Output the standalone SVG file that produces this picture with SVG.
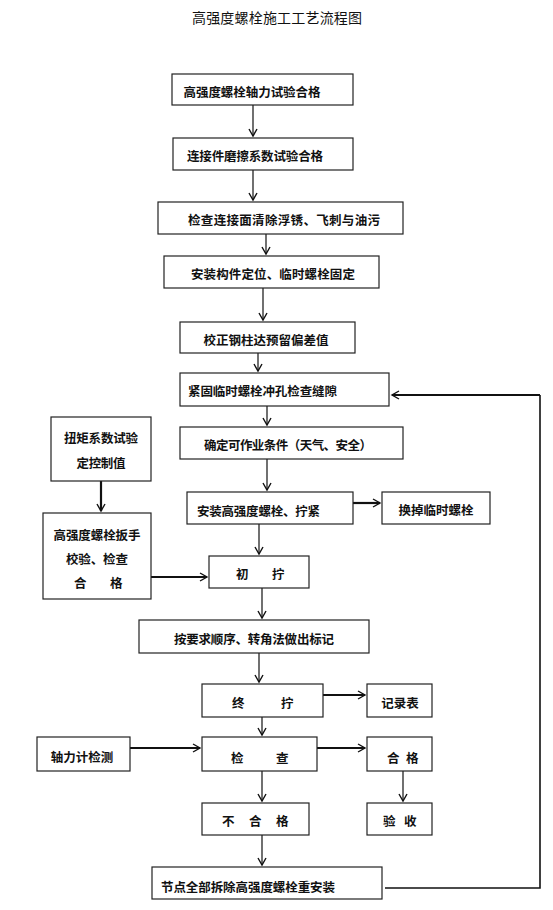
<svg xmlns="http://www.w3.org/2000/svg" width="553" height="910" viewBox="0 0 553 910">
<defs>
<style>
.box{fill:#fff;stroke:#222;stroke-width:1.2}
.t{font-family:"Noto Sans CJK SC","Noto Sans CJK JP",sans-serif;font-size:12.5px;font-weight:bold;fill:#111;dominant-baseline:central}
.c{text-anchor:middle}
.ln{fill:none;stroke:#111;stroke-width:1.2}
.th{fill:none;stroke:#111;stroke-width:2.2}
</style>
<marker id="ah" markerWidth="10" markerHeight="10" refX="8" refY="5" orient="auto" markerUnits="userSpaceOnUse">
<path d="M1,1 L8,5 L1,9" fill="none" stroke="#111" stroke-width="1.4"/>
</marker>
</defs>
<rect width="553" height="910" fill="#fff"/>
<text class="t c" x="277" y="17" style="font-size:14px;font-weight:normal" textLength="170" lengthAdjust="spacing">高强度螺栓施工工艺流程图</text>

<g id="connectors">
<line class="ln" x1="253" y1="105" x2="253" y2="136" marker-end="url(#ah)"/>
<line class="ln" x1="253" y1="170" x2="253" y2="200" marker-end="url(#ah)"/>
<line class="ln" x1="266" y1="234" x2="266" y2="254" marker-end="url(#ah)"/>
<line class="ln" x1="263" y1="288" x2="263" y2="320" marker-end="url(#ah)"/>
<line class="ln" x1="258" y1="353" x2="258" y2="371" marker-end="url(#ah)"/>
<line class="ln" x1="267" y1="406" x2="267" y2="425" marker-end="url(#ah)"/>
<line class="ln" x1="267" y1="459" x2="267" y2="490" marker-end="url(#ah)"/>
<line class="th" x1="353" y1="503" x2="380" y2="503" marker-end="url(#ah)"/>
<line class="ln" x1="259" y1="524" x2="259" y2="554" marker-end="url(#ah)"/>
<line class="th" x1="101" y1="481" x2="101" y2="511" marker-end="url(#ah)"/>
<line class="th" x1="151" y1="577" x2="207" y2="577" marker-end="url(#ah)"/>
<line class="ln" x1="262" y1="588" x2="262" y2="618" marker-end="url(#ah)"/>
<line class="ln" x1="259" y1="653" x2="259" y2="682" marker-end="url(#ah)"/>
<line class="th" x1="323" y1="695" x2="365" y2="695" marker-end="url(#ah)"/>
<line class="ln" x1="262" y1="717" x2="262" y2="735" marker-end="url(#ah)"/>
<line class="th" x1="130" y1="748" x2="200" y2="748" marker-end="url(#ah)"/>
<line class="th" x1="316" y1="748" x2="365" y2="748" marker-end="url(#ah)"/>
<line class="ln" x1="403" y1="771" x2="403" y2="801" marker-end="url(#ah)"/>
<line class="ln" x1="262" y1="771" x2="262" y2="801" marker-end="url(#ah)"/>
<line class="ln" x1="262" y1="835" x2="262" y2="865" marker-end="url(#ah)"/>
<polyline class="ln" points="385,888 540,888 540,395" style="stroke-width:1.6"/>
<line class="th" x1="540" y1="395" x2="392" y2="395" marker-end="url(#ah)"/>
</g>

<g id="n1"><rect class="box" x="172" y="74" width="181" height="31"/><text class="t c" x="252" y="91" textLength="137" lengthAdjust="spacing">高强度螺栓轴力试验合格</text></g>
<g id="n2"><rect class="box" x="173" y="138" width="180" height="32"/><text class="t c" x="255" y="155" textLength="136" lengthAdjust="spacing">连接件磨擦系数试验合格</text></g>
<g id="n3"><rect class="box" x="158" y="202" width="245" height="32"/><text class="t c" x="284" y="219" textLength="192" lengthAdjust="spacing">检查连接面清除浮锈、飞刺与油污</text></g>
<g id="n4"><rect class="box" x="164" y="256" width="215" height="32"/><text class="t c" x="273" y="273" textLength="164" lengthAdjust="spacing">安装构件定位、临时螺栓固定</text></g>
<g id="n5"><rect class="box" x="180" y="322" width="175" height="31"/><text class="t c" x="266" y="339" textLength="125" lengthAdjust="spacing">校正钢柱达预留偏差值</text></g>
<g id="n6"><rect class="box" x="180" y="373" width="209" height="33"/><text class="t" x="188" y="390" textLength="149" lengthAdjust="spacing">紧固临时螺栓冲孔检查缝隙</text></g>
<g id="n7"><rect class="box" x="180" y="427" width="223" height="32"/><text class="t c" x="288" y="444" textLength="168" lengthAdjust="spacing">确定可作业条件（天气、安全）</text></g>
<g id="n8"><rect class="box" x="187" y="492" width="166" height="32"/><text class="t" x="197" y="510" textLength="123" lengthAdjust="spacing">安装高强度螺栓、拧紧</text></g>
<g id="n9"><rect class="box" x="382" y="492" width="108" height="32"/><text class="t c" x="436" y="509" textLength="75" lengthAdjust="spacing">换掉临时螺栓</text></g>
<g id="n10"><rect class="box" x="51" y="417" width="100" height="64"/><text class="t c" x="101" y="437" textLength="74" lengthAdjust="spacing">扭矩系数试验</text><text class="t c" x="101" y="462" textLength="49" lengthAdjust="spacing">定控制值</text></g>
<g id="n11"><rect class="box" x="43" y="513" width="108" height="86"/><text class="t c" x="97" y="534" textLength="87" lengthAdjust="spacing">高强度螺栓扳手</text><text class="t c" x="97" y="558" textLength="62" lengthAdjust="spacing">校验、检查</text><text class="t" x="74" y="582">合</text><text class="t" x="110" y="582">格</text></g>
<g id="n12"><rect class="box" x="209" y="556" width="100" height="32"/><text class="t" x="236" y="573">初</text><text class="t" x="272" y="573">拧</text></g>
<g id="n13"><rect class="box" x="139" y="620" width="230" height="33"/><text class="t c" x="254" y="638" textLength="160" lengthAdjust="spacing">按要求顺序、转角法做出标记</text></g>
<g id="n14"><rect class="box" x="202" y="684" width="121" height="33"/><text class="t" x="232" y="702">终</text><text class="t" x="281" y="702">拧</text></g>
<g id="n15"><rect class="box" x="367" y="684" width="65" height="33"/><text class="t c" x="400" y="702">记录表</text></g>
<g id="n16"><rect class="box" x="37" y="737" width="93" height="34"/><text class="t c" x="82" y="756">轴力计检测</text></g>
<g id="n17"><rect class="box" x="202" y="737" width="115" height="34"/><text class="t" x="231" y="757">检</text><text class="t" x="276" y="757">查</text></g>
<g id="n18"><rect class="box" x="367" y="737" width="65" height="34"/><text class="t" x="387" y="757">合</text><text class="t" x="406" y="757">格</text></g>
<g id="n19"><rect class="box" x="202" y="803" width="107" height="32"/><text class="t" x="222" y="820">不</text><text class="t" x="249" y="820">合</text><text class="t" x="276" y="820">格</text></g>
<g id="n20"><rect class="box" x="367" y="803" width="65" height="32"/><text class="t" x="383" y="820">验</text><text class="t" x="404" y="820">收</text></g>
<g id="n21"><rect class="box" x="152" y="867" width="230" height="32"/><text class="t" x="161" y="886" textLength="174" lengthAdjust="spacing">节点全部拆除高强度螺栓重安装</text></g>
</svg>
